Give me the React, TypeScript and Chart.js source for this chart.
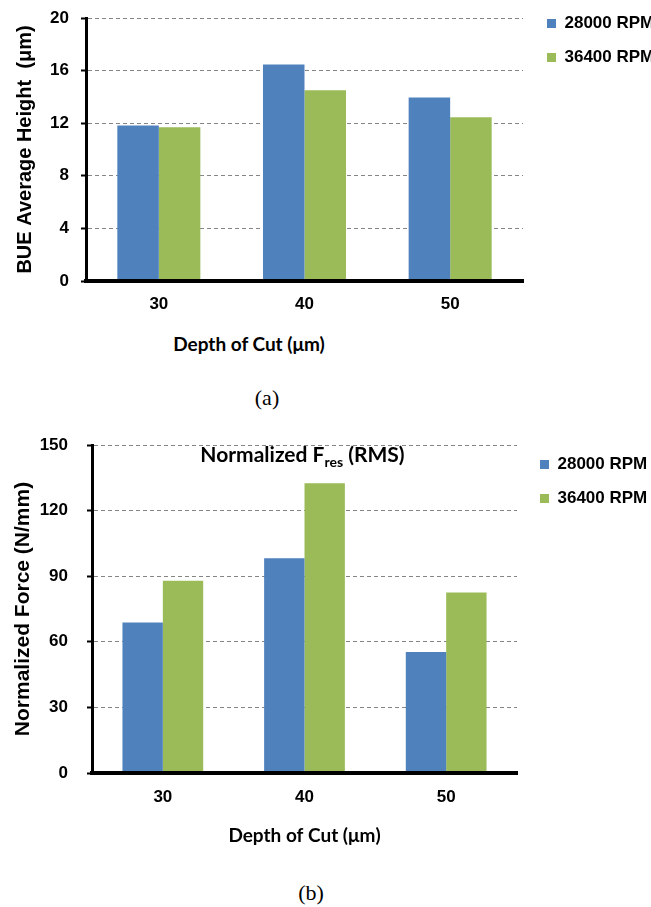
import React, { useEffect, useRef } from 'react';
import { Chart, registerables } from 'chart.js';

Chart.register(...registerables);

// ---------- data ----------
const categories = ['30', '40', '50'];
const seriesNames = ['28000 RPM', '36400 RPM'];
const seriesColors = ['#4F81BD', '#9BBB59'];

const bueRpm28000 = [11.82, 16.46, 13.95];
const bueRpm36400 = [11.7, 14.5, 12.45];
const bueYMax = 20;
const bueYStep = 4;

const forceRpm28000 = [68.8, 98.2, 55.3];
const forceRpm36400 = [87.9, 132.5, 82.5];
const forceYMax = 150;
const forceYStep = 30;

const xAxisTitle = 'Depth of Cut (μm)';
const bueYTitle = 'BUE Average Height  (μm)';
const forceYTitle = 'Normalized Force (N/mm)';
const forceTitleMain = 'Normalized F';
const forceTitleSub = 'res';
const forceTitleTail = ' (RMS)';
const captionA = '(a)';
const captionB = '(b)';

// ---------- styling ----------
const ARIAL = "'Liberation Sans', Arial, sans-serif";
const CALIBRI = "Lato, 'Open Sans', sans-serif";
const SERIF = "'Liberation Serif', 'Times New Roman', serif";

type ChartProps = {
  top: number;
  width: number;
  height: number;
  values: number[][];
  yMax: number;
  yStep: number;
  yTitle: string;
  yTitleSize: number;
  yTitlePad: number;
  yWidth: number;
  yTickPad: number;
  xHeight: number;
  xTickPad: number;
  xTitle?: string;
  xTitlePadBottom?: number;
  pad: { top: number; right: number; bottom: number; left: number };
  legendDx: number;
  legendDy: number;
  withTitle?: boolean;
};

function BarChart(p: ChartProps) {
  const ref = useRef<HTMLCanvasElement>(null);

  useEffect(() => {
    const legendShift = {
      id: 'legendShift',
      afterLayout(chart: any) {
        const l = chart.legend;
        if (!l) return;
        l.left += p.legendDx;
        l.top += p.legendDy;
        l.bottom += p.legendDy;
        l.right = chart.width;
        l.width = l.right - l.left;
      },
    };
    const titlePlugin = {
      id: 'fresTitle',
      afterDraw(chart: any) {
        if (!p.withTitle) return;
        const { ctx, chartArea } = chart;
        const big = `bold 21px ${CALIBRI}`;
        const small = `bold 14px ${CALIBRI}`;
        ctx.save();
        ctx.font = big;
        const w1 = ctx.measureText(forceTitleMain).width;
        const w3 = ctx.measureText(forceTitleTail).width;
        ctx.font = small;
        const w2 = ctx.measureText(forceTitleSub).width;
        const total = w1 + w2 + w3;
        let x = (chartArea.left + chartArea.right) / 2 - 2 - total / 2;
        const y = chartArea.top + 17;
        ctx.fillStyle = '#000';
        ctx.textAlign = 'left';
        ctx.textBaseline = 'alphabetic';
        ctx.font = big;
        ctx.fillText(forceTitleMain, x, y);
        x += w1;
        ctx.font = small;
        ctx.fillText(forceTitleSub, x, y + 5);
        x += w2;
        ctx.font = big;
        ctx.fillText(forceTitleTail, x, y);
        ctx.restore();
      },
    };

    const chart = new Chart(ref.current as HTMLCanvasElement, {
      type: 'bar',
      data: {
        labels: categories,
        datasets: seriesNames.map((name, i) => ({
          label: name,
          data: p.values[i],
          backgroundColor: seriesColors[i],
          borderWidth: 0,
          categoryPercentage: 0.57,
          barPercentage: 1,
        })),
      },
      options: {
        responsive: false,
        animation: false,
        events: [],
        layout: { padding: p.pad },
        plugins: {
          legend: {
            position: 'right',
            align: 'start',
            maxWidth: 100,
            labels: {
              boxWidth: 9,
              boxHeight: 9,
              padding: 17,
              color: '#000',
              font: { family: ARIAL, size: 17, weight: 'bold' },
            },
          },
          tooltip: { enabled: false },
        },
        scales: {
          x: {
            grid: { display: false, drawTicks: false },
            border: { display: true, color: '#000', width: 4, z: 1 },
            ticks: {
              color: '#000',
              padding: p.xTickPad,
              maxRotation: 0,
              font: { family: ARIAL, size: 17, weight: 'bold' },
            },
            title: p.xTitle
              ? {
                  display: true,
                  text: p.xTitle,
                  color: '#000',
                  font: { family: CALIBRI, size: 19, weight: 'bold' },
                  padding: { top: 0, bottom: p.xTitlePadBottom ?? 0 },
                }
              : { display: false },
            afterFit: (s: any) => {
              s.height = p.xHeight;
              s.paddingLeft = 0;
              s.paddingRight = 0;
            },
          },
          y: {
            min: 0,
            max: p.yMax,
            ticks: {
              stepSize: p.yStep,
              color: '#000',
              padding: p.yTickPad,
              font: { family: ARIAL, size: 17, weight: 'bold' },
            },
            grid: {
              color: '#858585',
              lineWidth: 1,
              drawTicks: true,
              tickLength: 5,
              tickColor: '#000',
              tickWidth: 2,
              tickBorderDash: [],
            },
            border: { display: true, color: '#000', width: 3, dash: [4, 3], z: 1 },
            title: {
              display: true,
              text: p.yTitle,
              color: '#000',
              font: { family: ARIAL, size: p.yTitleSize, weight: 'bold' },
              padding: { top: p.yTitlePad, bottom: 0 },
            },
            afterFit: (s: any) => {
              s.width = p.yWidth;
              s.paddingTop = 0;
              s.paddingBottom = 0;
            },
          },
        },
      } as any,
      plugins: [legendShift, titlePlugin],
    });
    return () => chart.destroy();
  }, []);

  return (
    <canvas
      ref={ref}
      width={p.width}
      height={p.height}
      style={{ position: 'absolute', left: 0, top: p.top, width: p.width, height: p.height }}
    />
  );
}

const centered = (x: number, y: number, font: string): React.CSSProperties => ({
  position: 'absolute',
  left: x,
  top: y,
  transform: 'translate(-50%, -50%)',
  font,
  lineHeight: '1',
  whiteSpace: 'nowrap',
  color: '#000',
});

export default function App() {
  return (
    <div
      style={{
        position: 'absolute',
        left: 0,
        top: 0,
        width: 651,
        height: 907,
        background: '#fff',
        overflow: 'hidden',
      }}
    >
      <BarChart
        top={0}
        width={651}
        height={330}
        values={[bueRpm28000, bueRpm36400]}
        yMax={bueYMax}
        yStep={bueYStep}
        yTitle={bueYTitle}
        yTitleSize={20}
        yTitlePad={13}
        yWidth={86}
        yTickPad={12}
        xHeight={40}
        xTickPad={13}
        pad={{ top: 18, right: 28, bottom: 9, left: 0 }}
        legendDx={7}
        legendDy={-20}
      />
      <div style={centered(249, 343, `bold 19px ${CALIBRI}`)}>{xAxisTitle}</div>
      <div style={centered(267, 397.5, `22px ${SERIF}`)}>{captionA}</div>

      <BarChart
        top={430}
        width={651}
        height={430}
        values={[forceRpm28000, forceRpm36400]}
        yMax={forceYMax}
        yStep={forceYStep}
        yTitle={forceYTitle}
        yTitleSize={21}
        yTitlePad={11}
        yWidth={92}
        yTickPad={19}
        xHeight={80}
        xTickPad={14}
        xTitle={xAxisTitle}
        xTitlePadBottom={6}
        pad={{ top: 15, right: 34, bottom: 7, left: 0 }}
        legendDx={6}
        legendDy={-6}
        withTitle
      />
      <div style={centered(311, 893, `22px ${SERIF}`)}>{captionB}</div>
    </div>
  );
}
